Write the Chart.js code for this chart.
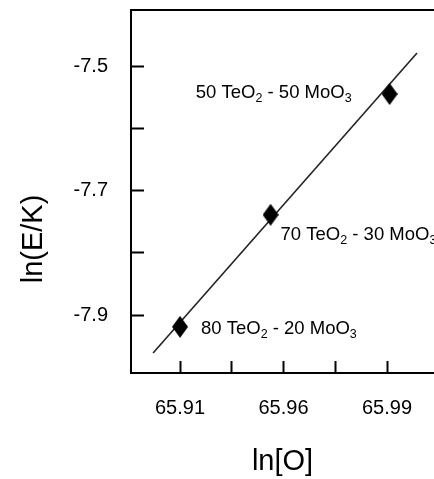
<!DOCTYPE html>
<html>
<head>
<meta charset="utf-8">
<title>ln(E/K) x ln[O]</title>
<script src="https://cdn.jsdelivr.net/npm/chart.js@4.4.0/dist/chart.umd.min.js"></script>
<style>
    html, body { margin: 0; padding: 0; background: #fff; }
    #wrap { width: 434px; height: 479px; }
</style>
</head>
<body>
<div id="wrap"><canvas id="chart" width="434" height="479"></canvas></div>
<script>
// Dados
const compositions = ['80 TeO{2} - 20 MoO{3}', '70 TeO{2} - 30 MoO{3}', '50 TeO{2} - 50 MoO{3}'];
const lnO = [65.910, 65.945, 65.991];
const lnEK = [-7.919, -7.739, -7.545];
const fitX = [65.8996, 66.0016];
const fitY = [-7.961, -7.479];
const xTicks = [65.91, 65.93, 65.95, 65.97, 65.99];
const xTickLabels = ['65.91', '', '65.96', '', '65.99'];
const yTicks = [-7.9, -7.8, -7.7, -7.6, -7.5];
const yTickLabels = ['-7.9', '', '-7.7', '', '-7.5'];
const xRange = [65.89106, 66.00816];
const yRange = [-7.99317, -7.41004];
const xTitle = 'ln[O]';
const yTitle = 'ln(E/K)';

// Estilos (posições relativas aos pontos)
const FONT = "'Liberation Sans', Arial, Helvetica, sans-serif";
const labelOffsets = [
    { dx: 21, dy: 7, align: 'left' },
    { dx: 10, dy: 25, align: 'left' },
    { dx: -38, dy: 4, align: 'right' }
];

Chart.defaults.font.family = FONT;
Chart.defaults.color = '#000';

// Marcador em losango (mais alto que largo)
function makeDiamond(w, h) {
    const c = document.createElement('canvas');
    c.width = w;
    c.height = h;
    const g = c.getContext('2d');
    g.fillStyle = '#000';
    g.beginPath();
    g.moveTo(w / 2, 0);
    g.lineTo(w, h / 2);
    g.lineTo(w / 2, h);
    g.lineTo(0, h / 2);
    g.closePath();
    g.fill();
    return c;
}

// Texto com subíndices: '{2}' vira subscrito
function drawSubText(ctx, text, x, y, align) {
    const parts = text.split(/\{(\d+)\}/);
    const mainFont = '18.5px ' + FONT;
    const subFont = '12.5px ' + FONT;
    let width = 0;
    parts.forEach((p, i) => {
        ctx.font = i % 2 ? subFont : mainFont;
        width += ctx.measureText(p).width;
    });
    let cx = align === 'right' ? x - width : x;
    ctx.textBaseline = 'alphabetic';
    ctx.textAlign = 'left';
    parts.forEach((p, i) => {
        const sub = i % 2 === 1;
        ctx.font = sub ? subFont : mainFont;
        ctx.fillText(p, cx, sub ? y + 4 : y);
        cx += ctx.measureText(p).width;
    });
}

const annotations = {
    id: 'annotations',
    afterDatasetsDraw(chart) {
        const { ctx } = chart;
        const xs = chart.scales.x;
        const ys = chart.scales.y;
        ctx.save();
        ctx.fillStyle = '#000';
        compositions.forEach((label, i) => {
            const o = labelOffsets[i];
            const px = xs.getPixelForValue(lnO[i]) + o.dx;
            const py = ys.getPixelForValue(lnEK[i]) + o.dy;
            drawSubText(ctx, label, px, py, o.align);
        });
        ctx.restore();
    }
};

const axisTitles = {
    id: 'axisTitles',
    afterDraw(chart) {
        const { ctx, chartArea } = chart;
        ctx.save();
        ctx.fillStyle = '#000';
        ctx.font = '29px ' + FONT;
        ctx.textAlign = 'center';
        ctx.textBaseline = 'middle';
        ctx.fillText(xTitle, (chartArea.left + chartArea.right) / 2, 462);
        ctx.translate(34, 239);
        ctx.rotate(-Math.PI / 2);
        ctx.fillText(yTitle, 0, 0);
        ctx.restore();
    }
};

function noPadding(scale) {
    scale.paddingTop = 0;
    scale.paddingBottom = 0;
    scale.paddingLeft = 0;
    scale.paddingRight = 0;
}

const ctx = document.getElementById('chart').getContext('2d');
new Chart(ctx, {
    type: 'scatter',
    data: {
        datasets: [{
            label: 'TeO2 - MoO3',
            data: lnO.map((v, i) => ({ x: v, y: lnEK[i] })),
            pointStyle: makeDiamond(16, 22),
            pointRadius: 8,
            showLine: false
        }, {
            label: 'ajuste',
            type: 'line',
            data: fitX.map((v, i) => ({ x: v, y: fitY[i] })),
            borderColor: '#222',
            borderWidth: 1.6,
            pointRadius: 0,
            fill: false,
            tension: 0
        }]
    },
    options: {
        responsive: false,
        animation: false,
        layout: {
            autoPadding: false,
            padding: { top: 10, right: 0, bottom: 0, left: 0 }
        },
        plugins: {
            legend: { display: false },
            tooltip: { enabled: false }
        },
        scales: {
            x: {
                type: 'linear',
                position: 'bottom',
                min: xRange[0],
                max: xRange[1],
                afterBuildTicks: s => { s.ticks = xTicks.map(v => ({ value: v })); },
                afterFit: s => { s.height = 106; noPadding(s); },
                ticks: {
                    autoSkip: false,
                    maxRotation: 0,
                    padding: 35,
                    font: { size: 20 },
                    callback: (v, i) => xTickLabels[i]
                },
                grid: {
                    drawOnChartArea: false,
                    tickLength: -12,
                    tickWidth: 2,
                    color: '#000'
                },
                border: { width: 2, color: '#000' }
            },
            x2: {
                type: 'linear',
                position: 'top',
                min: xRange[0],
                max: xRange[1],
                afterFit: s => { s.height = 0; noPadding(s); },
                ticks: { display: false },
                grid: { display: false },
                border: { width: 2, color: '#000' }
            },
            y: {
                type: 'linear',
                position: 'left',
                min: yRange[0],
                max: yRange[1],
                afterBuildTicks: s => { s.ticks = yTicks.map(v => ({ value: v })); },
                afterFit: s => { s.width = 131; noPadding(s); },
                ticks: {
                    autoSkip: false,
                    padding: 36,
                    font: { size: 20 },
                    callback: (v, i) => yTickLabels[i]
                },
                grid: {
                    drawOnChartArea: false,
                    tickLength: -13,
                    tickWidth: 2,
                    color: '#000'
                },
                border: { width: 2, color: '#000' }
            }
        }
    },
    plugins: [annotations, axisTitles]
});
</script>
</body>
</html>
